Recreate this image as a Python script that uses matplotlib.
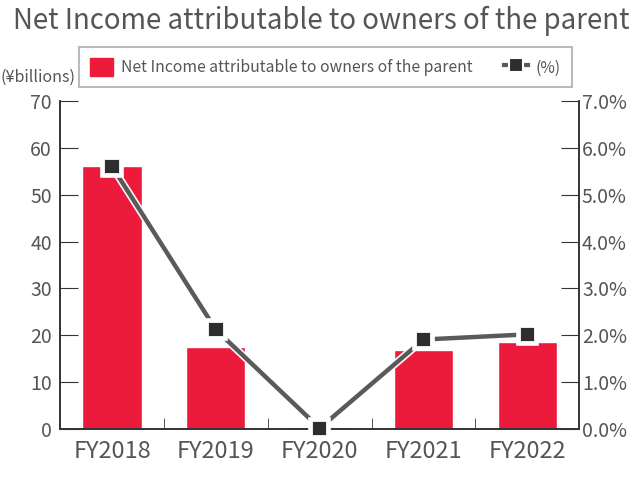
import matplotlib
matplotlib.use("Agg")
import matplotlib.pyplot as plt
import matplotlib.patheffects as pe
from matplotlib.patches import Patch
from matplotlib.lines import Line2D
from matplotlib.ticker import FuncFormatter

plt.rcParams['font.family'] = ['Noto Sans CJK JP', 'DejaVu Sans']

years = ["FY2018", "FY2019", "FY2020", "FY2021", "FY2022"]
net_income = [56.0, 17.6, 0.5, 16.8, 18.5]     # ¥ billions
ratio_pct = [5.6, 2.12, 0.02, 1.91, 2.02]       # %

BAR = "#ec1b3b"
LINE = "#5a5a5a"
MARK = "#2e2e2e"
TXT = "#555555"

fig = plt.figure(figsize=(6.4, 4.8), dpi=100)
ax = fig.add_axes([0.094, 0.106, 0.811, 0.684])
ax2 = ax.twinx()

x = range(len(years))
ax.bar(x, net_income, width=0.57, color=BAR, edgecolor="white", linewidth=1, zorder=2)
ax.set_xlim(-0.5, len(years) - 0.5)
ax.set_ylim(0, 70)
ax.set_yticks(range(0, 71, 10))

ax2.plot(x, ratio_pct, color=LINE, linewidth=3.2, marker="s", markersize=11,
         markerfacecolor=MARK, markeredgecolor="white", markeredgewidth=1.3,
         clip_on=False, zorder=3,
         path_effects=[pe.Stroke(linewidth=5.5, foreground="white"), pe.Normal()])
ax2.set_ylim(0, 7)
ax2.set_yticks(range(0, 8))
ax2.yaxis.set_major_formatter(FuncFormatter(lambda v, p: f"{v:.1f}%"))

# category labels, boundary ticks
ax.set_xticks(list(x))
ax.set_xticklabels(years, fontsize=17, color=TXT)
ax.tick_params(axis="x", which="major", length=0, pad=8)
ax.set_xticks([i + 0.5 for i in range(len(years) - 1)], minor=True)
ax.tick_params(axis="x", which="minor", direction="in", length=8, color="#333333")

ax.tick_params(axis="y", direction="in", length=13, labelsize=14, labelcolor=TXT,
               color="#333333", pad=6)
ax2.tick_params(axis="y", direction="in", length=13, labelsize=14, labelcolor=TXT,
                color="#333333", pad=2)

for a in (ax, ax2):
    a.spines["top"].set_visible(False)
    for s in ("left", "right", "bottom"):
        a.spines[s].set_color("#333333")
        a.spines[s].set_linewidth(1.2)

fig.text(0.02, 0.988, "Net Income attributable to owners of the parent",
         fontsize=19.9, color=TXT, ha="left", va="top")
fig.text(0.0, 0.838, "(¥billions)", fontsize=11.5, color=TXT, ha="left", va="center")

handles = [
    Patch(facecolor=BAR, edgecolor=BAR),
    Line2D([0], [0], color=LINE, linewidth=3, marker="s", markersize=10,
           markerfacecolor=MARK, markeredgecolor="white", markeredgewidth=1.5),
]
leg = fig.legend(handles, ["Net Income attributable to owners of the parent", "(%)"],
                 loc="center", bbox_to_anchor=(0.508, 0.86), ncol=2, fontsize=11.3,
                 frameon=True, fancybox=False, edgecolor="#aaaaaa",
                 handlelength=1.5, handleheight=1.4, handletextpad=0.5,
                 columnspacing=2.0, borderpad=0.7)
leg.get_frame().set_linewidth(1.5)
for t in leg.get_texts():
    t.set_color(TXT)

fig.savefig("out.png", dpi=100)
